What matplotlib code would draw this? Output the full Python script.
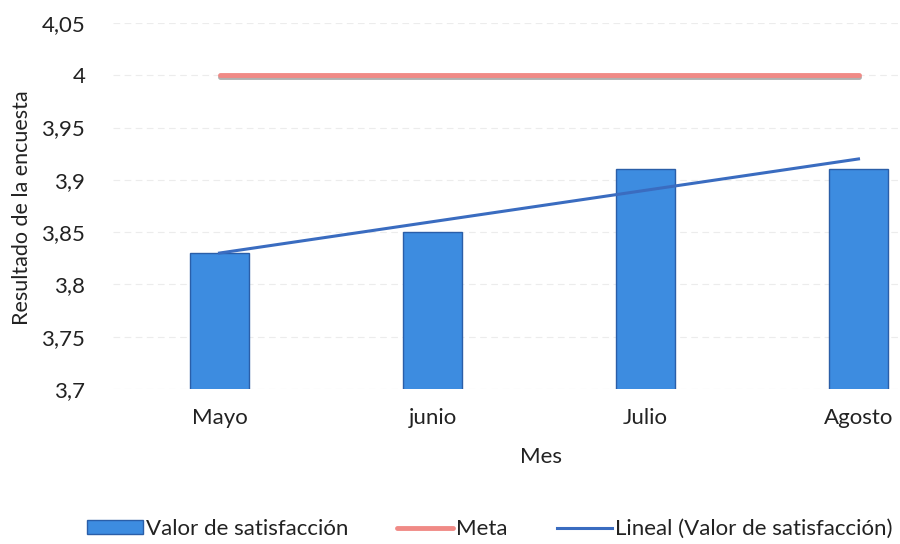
import matplotlib
matplotlib.use("Agg")
import matplotlib.pyplot as plt
import numpy as np
from matplotlib.ticker import FuncFormatter

meses = ["Mayo", "junio", "Julio", "Agosto"]
valor_satisfaccion = [3.83, 3.85, 3.91, 3.91]
meta = [4.0, 4.0, 4.0, 4.0]
yticks = [3.7, 3.75, 3.8, 3.85, 3.9, 3.95, 4.0, 4.05]

plt.rcParams['font.family'] = ['Lato', 'DejaVu Sans']

fig = plt.figure(figsize=(9, 5.44), dpi=100)
ax = fig.add_axes([113/900, (544-389)/544, (965-113)/900, (389-23)/544])

x = np.arange(len(meses))
ax.bar(x, valor_satisfaccion, width=0.275, bottom=0, color="#3d8ce0",
       edgecolor="#2a5ea8", linewidth=1.0, label="Valor de satisfacción", zorder=3)
ax.plot(x, [m - 0.0012 for m in meta], color="#b0b0b0", linewidth=3.5, zorder=3,
        solid_capstyle="round")
ax.plot(x, meta, color="#f08a86", linewidth=3.5, zorder=4, label="Meta", solid_capstyle="round")

coef = np.polyfit(x, valor_satisfaccion, 1)
trend = np.polyval(coef, x)
ax.plot(x, trend, color="#3a6cc0", linewidth=2.2, zorder=5, label="Lineal (Valor de satisfacción)")

ax.set_ylim(3.7, 4.05)
ax.set_xlim(-0.5, 3.5)
ax.set_yticks(yticks)
ax.yaxis.set_major_formatter(FuncFormatter(lambda v, p: ("%g" % round(v, 2)).replace(".", ",")))
ax.set_xticks(x)
ax.set_xticklabels(meses)
ax.grid(axis="y", color="#ececec", linewidth=0.8, linestyle=(0, (6, 4)), zorder=0)
for s in ax.spines.values():
    s.set_visible(False)
ax.tick_params(length=0, labelsize=16, colors="#222222")
ax.tick_params(axis="x", pad=14)
ax.tick_params(axis="y", pad=20)

fig.text(541/900, 1 - 457/544, "Mes", ha="center", va="center", fontsize=16, color="#222222")
fig.text(22/900, 1 - 208/544, "Resultado de la encuesta", ha="center", va="center",
         rotation=90, fontsize=15.5, color="#222222")

handles, labels = ax.get_legend_handles_labels()
order = [labels.index("Valor de satisfacción"), labels.index("Meta"),
         labels.index("Lineal (Valor de satisfacción)")]
leg = fig.legend([handles[i] for i in order], [labels[i] for i in order],
                 loc="center", bbox_to_anchor=(490/900, 1 - 529/544), ncol=3, frameon=False,
                 fontsize=16, handlelength=2.5, handletextpad=0.15, columnspacing=2.2,
                 handleheight=0.55)
for t in leg.get_texts():
    t.set_color("#222222")

fig.savefig("out.png", dpi=100, facecolor="white")
